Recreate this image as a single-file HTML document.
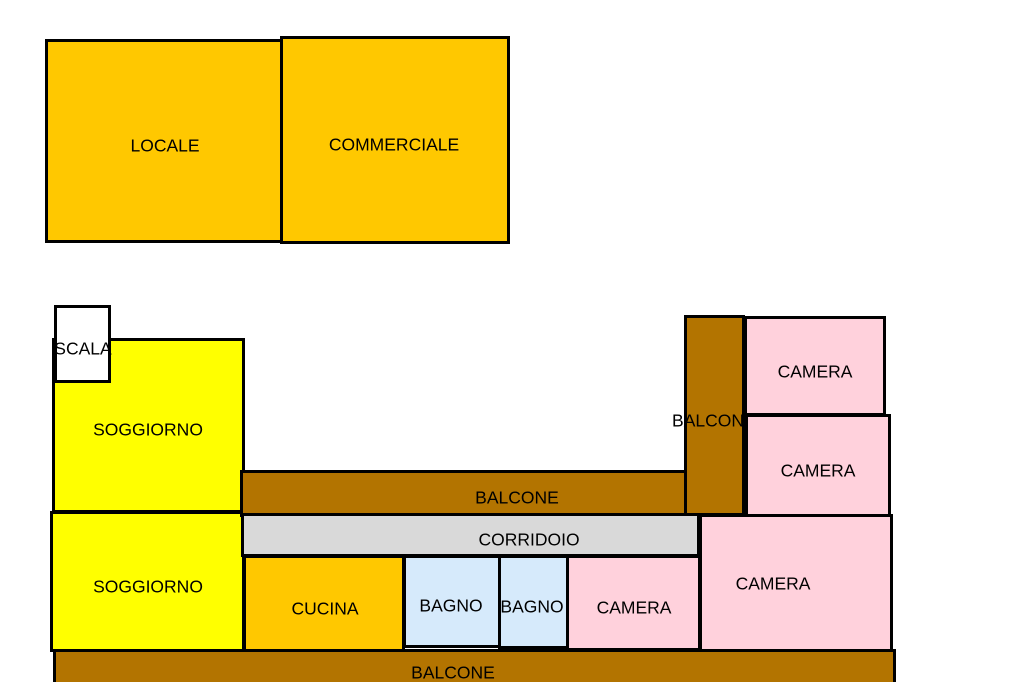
<!DOCTYPE html>
<html><head><style>
html,body{margin:0;width:1024px;height:682px;overflow:hidden}
body{background:#fff;position:relative;font-family:"Liberation Sans",sans-serif;font-size:17.5px;color:#000}
.r{position:absolute;box-sizing:border-box;border:3px solid #000}
.t{position:absolute;white-space:nowrap;transform:translate(-50%,-50%)}
.o{background:#FFC800}.y{background:#FFFF00}.b{background:#B37400}.g{background:#D9D9D9}.l{background:#D6EAFB}.p{background:#FFD1DC}.w{background:#fff}
</style></head><body>
<div class="r o" style="left:45px;top:39px;width:238px;height:204px"></div>
<div class="r o" style="left:280px;top:36px;width:230px;height:208px"></div>
<div class="r y" style="left:52px;top:338px;width:193px;height:175px"></div>
<div class="r w" style="left:54px;top:305px;width:57px;height:78px"></div>
<div class="r y" style="left:50px;top:511px;width:195px;height:141px"></div>
<div class="r b" style="left:240px;top:470px;width:447px;height:47px"></div>
<div class="r g" style="left:241px;top:513px;width:459px;height:44px"></div>
<div class="r o" style="left:243px;top:555px;width:162px;height:97px"></div>
<div class="r l" style="left:403px;top:555px;width:98px;height:93px"></div>
<div class="r l" style="left:498px;top:555px;width:71px;height:94px"></div>
<div class="r p" style="left:566px;top:555px;width:135px;height:96px"></div>
<div class="r b" style="left:684px;top:315px;width:61px;height:201px"></div>
<div class="r p" style="left:744px;top:316px;width:142px;height:100px"></div>
<div class="r p" style="left:745px;top:414px;width:146px;height:103px"></div>
<div class="r p" style="left:699px;top:514px;width:194px;height:138px"></div>
<div class="r b" style="left:53px;top:649px;width:843px;height:40px"></div>

<div class="t" style="left:165px;top:146px">LOCALE</div>
<div class="t" style="left:394px;top:145px">COMMERCIALE</div>
<div class="t" style="left:83px;top:349px">SCALA</div>
<div class="t" style="left:148px;top:430px">SOGGIORNO</div>
<div class="t" style="left:148px;top:587px">SOGGIORNO</div>
<div class="t" style="left:517px;top:498px">BALCONE</div>
<div class="t" style="left:529px;top:540px">CORRIDOIO</div>
<div class="t" style="left:325px;top:609px">CUCINA</div>
<div class="t" style="left:451px;top:606px">BAGNO</div>
<div class="t" style="left:532px;top:607px">BAGNO</div>
<div class="t" style="left:634px;top:608px">CAMERA</div>
<div class="t" style="left:708px;top:421px">BALCON</div>
<div class="t" style="left:815px;top:372px">CAMERA</div>
<div class="t" style="left:818px;top:471px">CAMERA</div>
<div class="t" style="left:773px;top:584px">CAMERA</div>
<div class="t" style="left:453px;top:673px">BALCONE</div>
</body></html>
